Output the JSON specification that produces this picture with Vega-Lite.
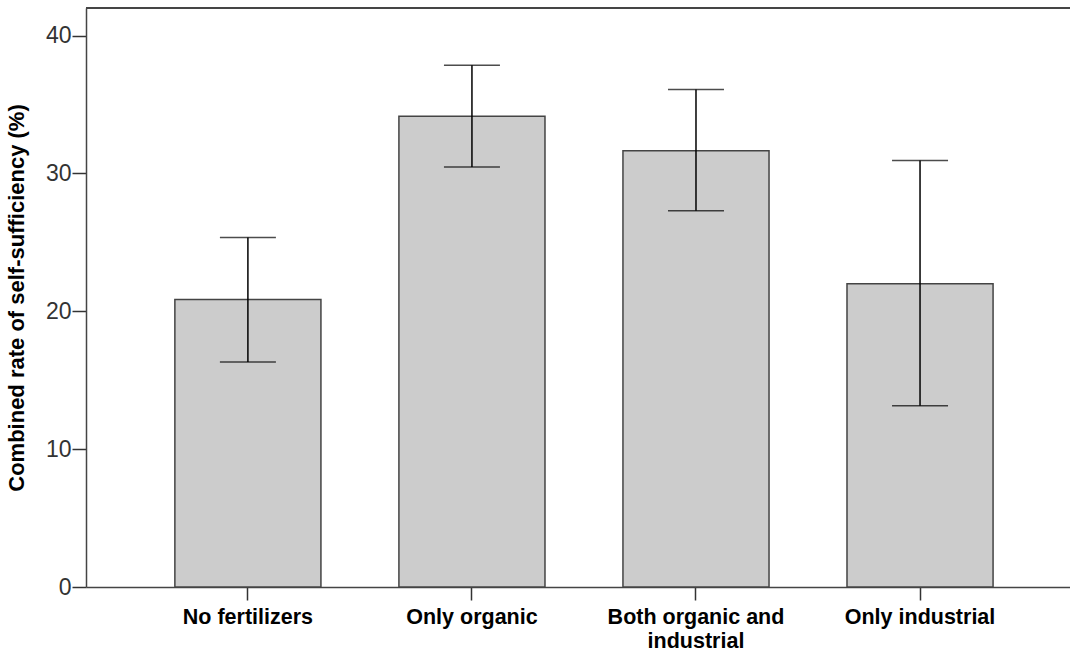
{
  "$schema": "https://vega.github.io/schema/vega-lite/v6.json",
  "width": 984,
  "height": 579,
  "autosize": {"type": "none"},
  "padding": {"left": 86, "top": 8, "right": 0, "bottom": 66},
  "background": "white",
  "config": {
    "view": {"stroke": null},
    "font": "Liberation Sans"
  },
  "data": {
    "values": [
      {"group": "No fertilizers", "mean": 20.85, "lo": 16.32, "hi": 25.36},
      {"group": "Only organic", "mean": 34.14, "lo": 30.47, "hi": 37.85},
      {"group": "Both organic and industrial", "mean": 31.65, "lo": 27.3, "hi": 36.08},
      {"group": "Only industrial", "mean": 22.0, "lo": 13.14, "hi": 30.93}
    ]
  },
  "encoding": {
    "x": {
      "field": "group",
      "type": "nominal",
      "sort": null,
      "scale": {"paddingInner": 0.348, "paddingOuter": 0.37, "align": 0.536},
      "axis": {
        "title": null,
        "labelAngle": 0,
        "labelFont": "Liberation Sans",
        "labelFontSize": 21.5,
        "labelFontWeight": "bold",
        "labelColor": "#000000",
        "labelPadding": 6,
        "labelLineHeight": 24,
        "labelLimit": 0,
        "labelExpr": "datum.label == 'Both organic and industrial' ? ['Both organic and', 'industrial'] : datum.label",
        "tickColor": "#333333",
        "tickSize": 13,
        "tickWidth": 1.5,
        "domainColor": "#444444",
        "domainWidth": 1.5
      }
    }
  },
  "layer": [
    {
      "mark": {"type": "bar", "fill": "#cccccc", "stroke": "#444444", "strokeWidth": 1.5},
      "encoding": {
        "y": {
          "field": "mean",
          "type": "quantitative",
          "scale": {"domain": [0, 42], "nice": false},
          "axis": {
            "title": "Combined rate of self-sufficiency (%)",
            "titleFont": "Liberation Sans",
            "titleFontSize": 22,
            "titleFontWeight": "bold",
            "titleColor": "#000000",
            "titlePadding": 17,
            "values": [0, 10, 20, 30, 40],
            "labelFont": "Liberation Sans Narrow, Liberation Sans",
            "labelFontSize": 23,
            "labelColor": "#333333",
            "labelPadding": 1,
            "tickColor": "#333333",
            "tickSize": 14,
            "tickWidth": 1.5,
            "grid": false,
            "domainColor": "#444444",
            "domainWidth": 1.5
          }
        }
      }
    },
    {
      "mark": {"type": "rule", "color": "#000000", "strokeWidth": 1.5},
      "encoding": {
        "y": {"field": "lo", "type": "quantitative"},
        "y2": {"field": "hi"}
      }
    },
    {
      "mark": {"type": "tick", "color": "#000000", "size": 56, "thickness": 1.5},
      "encoding": {"y": {"field": "lo", "type": "quantitative"}}
    },
    {
      "mark": {"type": "tick", "color": "#000000", "size": 56, "thickness": 1.5},
      "encoding": {"y": {"field": "hi", "type": "quantitative"}}
    },
    {
      "mark": {"type": "rule", "color": "#444444", "strokeWidth": 1.5},
      "encoding": {"y": {"datum": 42}, "x": {"value": 0}, "x2": {"value": 984}}
    }
  ]
}
